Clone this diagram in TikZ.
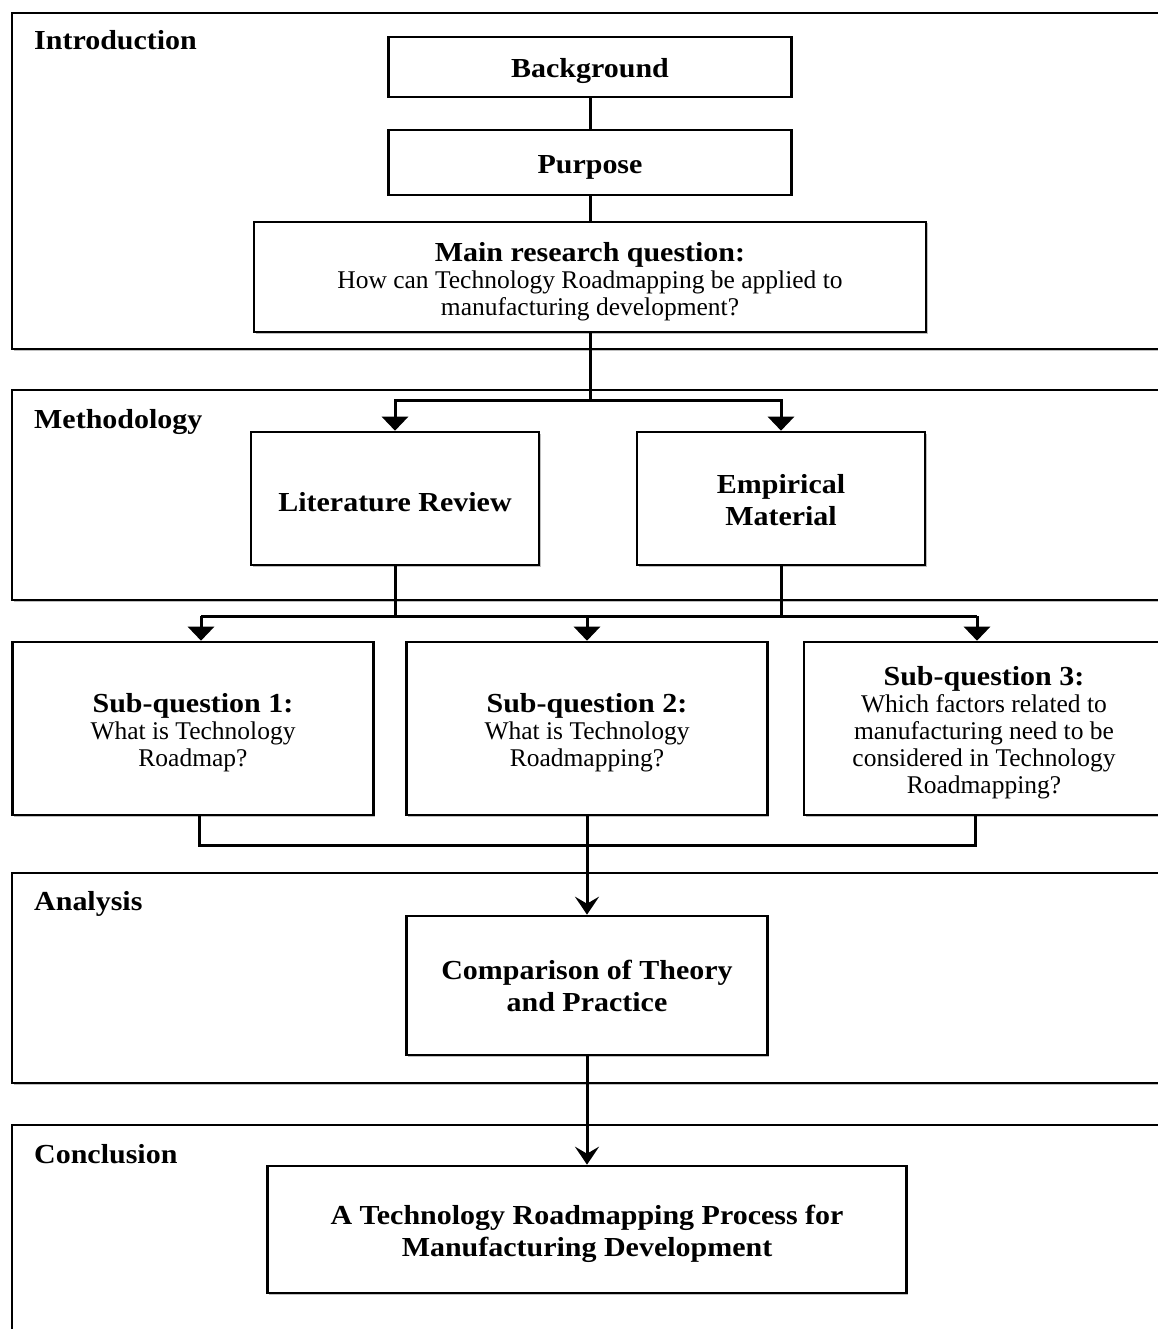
\documentclass[tikz,border=0pt]{standalone}
\usepackage{fontspec}
\setmainfont{Liberation Serif}[BoldFeatures={FakeStretch=1.09}]
\usetikzlibrary{positioning}
\usetikzlibrary{arrows.meta}
\usetikzlibrary{shadows}

\newcommand{\topstrut}[1][28]{\rule{0pt}{#1pt}}
\newcommand{\qhead}[1]{\topstrut{\fontsize{27.5}{32}\selectfont\bfseries #1}}

\tikzset{
  stageframe/.style={draw, line width=2.6pt, fill=white,
    drop shadow={shadow xshift=1.5pt, shadow yshift=-1.5pt, opacity=0.25, fill=black}},
  stagelabel/.style={anchor=base west, inner sep=0pt,
    font=\fontsize{27.5}{32}\selectfont\bfseries},
  stepbox/.style={draw, line width=2.6pt, fill=white, align=center, inner sep=0pt,
    font=\fontsize{25.5}{27}\selectfont,
    drop shadow={shadow xshift=1.5pt, shadow yshift=-1.5pt, opacity=0.25, fill=black}},
  boldbox/.style={stepbox, font=\fontsize{27.5}{32}\selectfont\bfseries},
  wire/.style={line width=3pt},
  arrT/.style={wire, -{Triangle[length=14pt,width=26pt]}},
  arrS/.style={wire, -{Stealth[length=18pt,width=24pt,inset=7pt]}}
}

\begin{document}
\begin{tikzpicture}[x=1pt,y=-1pt]
\useasboundingbox (0,0) rectangle (1157,1329);

% the four stages
\draw[stageframe] (12,13) rectangle (1185,349);
\draw[stageframe] (12,390) rectangle (1185,600);
\draw[stageframe] (12,873) rectangle (1185,1083);
\draw[stageframe] (12,1125) rectangle (1185,1370);
\node[stagelabel] (lblIntro) at (34,50) {Introduction};
\node[stagelabel] (lblMethod) at (34,428) {Methodology};
\node[stagelabel] (lblAnal) at (34,910) {Analysis};
\node[stagelabel] (lblConcl) at (34,1163) {Conclusion};

% introduction
\node[boldbox, minimum width=403, minimum height=60] (bg) at (590,67) {\topstrut[27]Background};
\node[boldbox, minimum width=403, minimum height=65] (purp) at (590,162.5) {\topstrut[27]Purpose};
\node[stepbox, minimum width=672, minimum height=110] (mainq) at (590,277)
  {\qhead{Main research question:}\\How can Technology Roadmapping be applied to\\manufacturing development?};

% methodology
\node[boldbox, minimum width=288, minimum height=133] (litrev) at (395,498.5) {\topstrut[27]Literature Review};
\node[boldbox, minimum width=288, minimum height=133] (empir) at (781,498.5) {\topstrut[23]Empirical\\Material};

% sub-questions
\node[stepbox, minimum width=361, minimum height=173] (sq1) at (193,728.5)
  {\qhead{Sub-question 1:}\\What is Technology\\Roadmap?};
\node[stepbox, minimum width=361, minimum height=173] (sq2) at (587,728.5)
  {\qhead{Sub-question 2:}\\What is Technology\\Roadmapping?};
\node[stepbox, minimum width=360, minimum height=173] (sq3) at (984,728.5)
  {\qhead{Sub-question 3:}\\Which factors related to\\manufacturing need to be\\considered in Technology\\Roadmapping?};

% analysis and conclusion
\node[boldbox, minimum width=361, minimum height=139] (cmp) at (587,985.5) {\topstrut[21]Comparison of Theory\\and Practice};
\node[boldbox, minimum width=639, minimum height=127] (concl) at (587,1229.5)
  {\topstrut[29]A Technology Roadmapping Process for\\Manufacturing Development};

% connectors
\draw[wire] (bg) -- (purp);
\draw[wire] (purp) -- (mainq);
\coordinate (forkA) at (590,400);
\draw[wire] (mainq) -- (forkA);
\draw[arrT] (forkA) -| (litrev);
\draw[arrT] (forkA) -| (empir);

\coordinate (forkL) at (201,616);
\coordinate (forkR) at (977,616);
\draw[wire] (litrev) -- (litrev |- forkL);
\draw[wire] (empir) -- (empir |- forkR);
\draw[wire] (forkL) -- (forkR);
\draw[arrT] (forkL) -- (forkL |- sq1.north);
\draw[arrT] (sq2 |- forkL) -- (sq2);
\draw[arrT] (forkR) -- (forkR |- sq3.north);

\coordinate (joinL) at (199,845);
\coordinate (joinR) at (975,845);
\draw[wire] (sq1.south -| joinL) -- (joinL) -- (joinR) -- (sq3.south -| joinR);
\draw[arrS] (sq2) -- (cmp);
\draw[arrS] (cmp) -- (concl);
\end{tikzpicture}
\end{document}
